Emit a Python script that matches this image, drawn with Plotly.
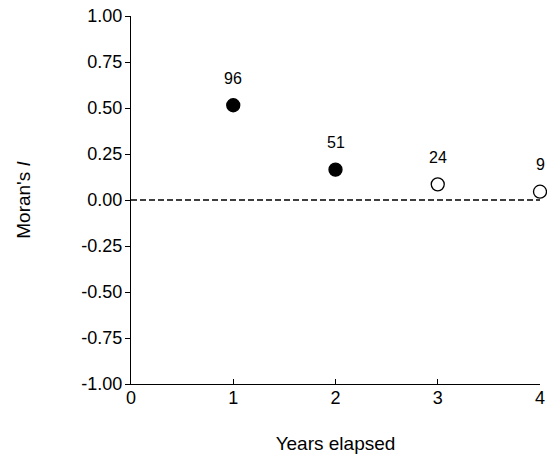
import plotly.graph_objects as go

years = [1, 2, 3, 4]
morans_i = [0.515, 0.165, 0.085, 0.045]
sample_n = ["96", "51", "24", "9"]
significant = [True, True, False, False]
x_ticks = [0, 1, 2, 3, 4]
y_ticks = [1.0, 0.75, 0.5, 0.25, 0.0, -0.25, -0.5, -0.75, -1.0]
y_tick_labels = ["1.00", "0.75", "0.50", "0.25", "0.00", "-0.25", "-0.50", "-0.75", "-1.00"]

FONT = "Liberation Sans, Arial, Helvetica, sans-serif"

fig = go.Figure()

# zero reference line
fig.add_trace(go.Scatter(
    x=[0, 4], y=[0, 0], mode="lines",
    line=dict(color="black", width=1.3, dash="6px,3px"),
    hoverinfo="skip", showlegend=False, cliponaxis=False,
))

fig.add_trace(go.Scatter(
    x=years, y=morans_i, mode="markers",
    marker=dict(
        size=13,
        color=["black" if s else "white" for s in significant],
        line=dict(color="black", width=1.3),
    ),
    showlegend=False, cliponaxis=False,
))

for x, y, t in zip(years, morans_i, sample_n):
    fig.add_annotation(x=x, y=y, text=t, showarrow=False, yshift=27,
                       font=dict(size=16, color="black", family=FONT))

fig.update_layout(
    width=547, height=458,
    margin=dict(l=131, r=7, t=16, b=74),
    paper_bgcolor="white", plot_bgcolor="white",
    font=dict(family=FONT, size=17, color="black"),
    xaxis=dict(
        range=[0, 4], tickvals=x_ticks, ticktext=[str(v) for v in x_ticks],
        ticks="inside", ticklen=5, tickwidth=1, tickcolor="black",
        showline=True, linecolor="black", linewidth=1.2,
        showgrid=False, zeroline=False, tickfont=dict(size=18),
        automargin=False, ticklabelstandoff=-3,
        title=dict(text="Years elapsed", font=dict(size=19), standoff=29),
    ),
    yaxis=dict(
        range=[-1, 1], tickvals=y_ticks, ticktext=y_tick_labels,
        ticks="outside", ticklen=5, tickwidth=1, tickcolor="black",
        showline=True, linecolor="black", linewidth=1.2,
        showgrid=False, zeroline=False, tickfont=dict(size=18),
        automargin=False, ticklabelstandoff=-1,
        title=dict(text="Moran's <i>I</i>", font=dict(size=19), standoff=45),
    ),
)

fig.write_html("out.html", config={"displayModeBar": False},
               post_script="document.body.style.margin='0';")
